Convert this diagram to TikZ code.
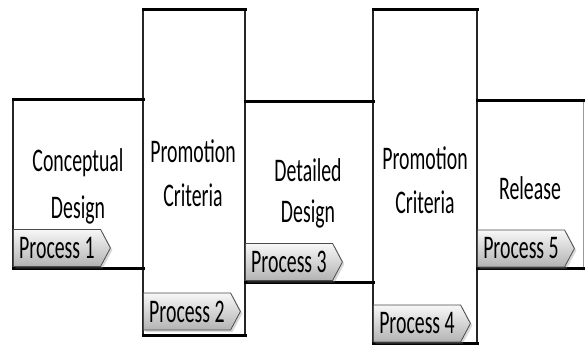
\documentclass[tikz,border=0pt]{standalone}
\usepackage{fontspec}
\setmainfont{Carlito}[FakeStretch=0.6]
\usetikzlibrary{shapes.symbols,shadows}
\begin{document}
\begin{tikzpicture}[x=1pt,y=1pt,
 box/.style={inner sep=0pt, outer sep=0pt, anchor=south west},
 hline/.style={line width=3pt, black, line cap=rect},
 vline/.style={line width=1.6pt, black!85},
 txt/.style={font=\fontsize{33}{37}\selectfont, anchor=base, inner sep=0pt},
 tab/.style={shape=signal, signal to=east, signal pointer angle=124, draw=black!70, line width=0.8pt, top color=black!3, bottom color=black!30, minimum height=37pt, minimum width=97pt, inner sep=0pt, anchor=west, font=\fontsize{33}{37}\selectfont, drop shadow={shadow xshift=2pt, shadow yshift=-2pt, opacity=0.3}}]
\useasboundingbox (0,0) rectangle (585,348);
\fill[white] (0,0) rectangle (585,348);
% boxes
\node[box, minimum width=130pt, minimum height=168pt] (b1) at (13,80) {};
\node[box, minimum width=102pt, minimum height=325pt] (b2) at (143,13) {};
\node[box, minimum width=128pt, minimum height=180pt] (b3) at (245,66) {};
\node[box, minimum width=104pt, minimum height=333pt] (b4) at (373,5) {};
\node[box, minimum width=106pt, minimum height=167pt] (b5) at (477,80) {};
% vertical edges
\foreach \b in {b1,b2,b3,b4}{
  \draw[vline] (\b.north west) -- (\b.south west);
}
\draw[vline] (b4.north east) -- (b4.south east);
\draw[vline] (b2.north east) -- (b2.south east);
\draw[line width=1pt, black!40] (b5.north east) -- (b5.south east);
% horizontal edges
\foreach \b in {b1,b2,b3,b4,b5}{
  \draw[hline] (\b.north west) -- (\b.north east);
  \draw[hline] (\b.south west) -- (\b.south east);
}
% texts
\node[txt] (c1) at (78,176) {Conceptual};
\node[txt] (c2) at (78,130) {Design};
\node[txt] (p1) at (193,185) {Promotion};
\node[txt] (p2) at (193,141) {Criteria};
\node[txt] (d1) at (308,166) {Detailed};
\node[txt] (d2) at (308,126) {Design};
\node[txt] (q1) at (425,178) {Promotion};
\node[txt] (q2) at (425,135) {Criteria};
\node[txt] (r1) at (530,148) {Release};
% tabs
\node[tab] (t1) at (13,100) {Process 1};
\node[tab] (t2) at (143,36.5) {Process 2};
\node[tab] (t3) at (245,86) {Process 3};
\node[tab] (t4) at (373,24.5) {Process 4};
\node[tab] (t5) at (477,99.5) {Process 5};
\end{tikzpicture}
\end{document}
